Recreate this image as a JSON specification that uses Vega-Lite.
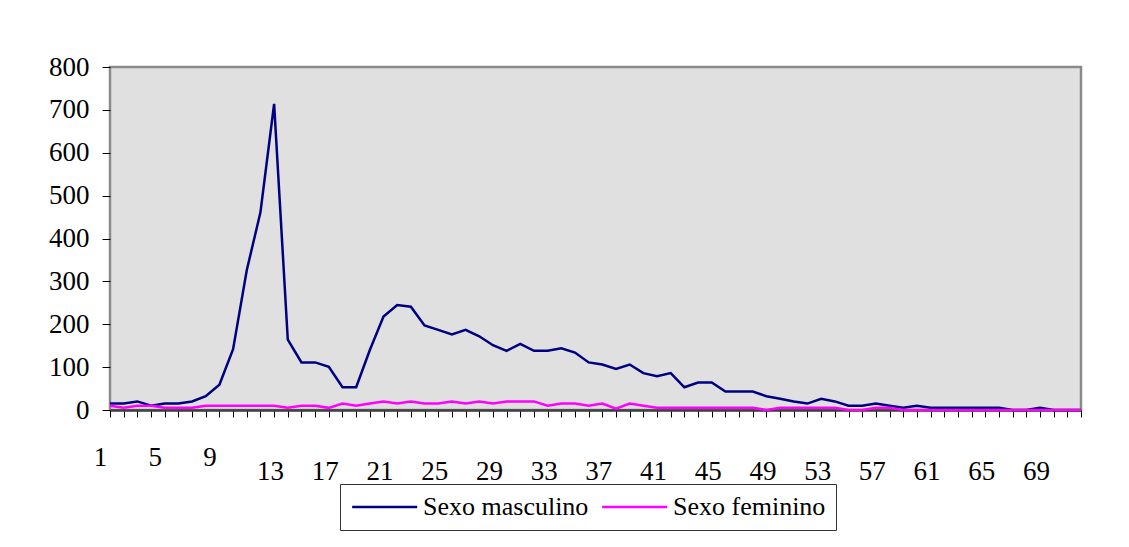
{
  "$schema": "https://vega.github.io/schema/vega-lite/v6.json",
  "autosize": "none",
  "width": 971,
  "height": 343,
  "padding": {"left": 110, "top": 67, "right": 48, "bottom": 137},
  "background": "white",
  "config": {
    "font": "Liberation Serif, Times New Roman, serif",
    "view": {"fill": "#E0E0E0", "stroke": "#8A8A8A", "strokeWidth": 2.5}
  },
  "data": {
    "values": [
      {"idade": 1, "Sexo masculino": 15, "Sexo feminino": 10},
      {"idade": 2, "Sexo masculino": 15, "Sexo feminino": 5},
      {"idade": 3, "Sexo masculino": 20, "Sexo feminino": 10},
      {"idade": 4, "Sexo masculino": 10, "Sexo feminino": 10},
      {"idade": 5, "Sexo masculino": 15, "Sexo feminino": 5},
      {"idade": 6, "Sexo masculino": 15, "Sexo feminino": 5},
      {"idade": 7, "Sexo masculino": 20, "Sexo feminino": 5},
      {"idade": 8, "Sexo masculino": 32, "Sexo feminino": 10},
      {"idade": 9, "Sexo masculino": 59, "Sexo feminino": 10},
      {"idade": 10, "Sexo masculino": 142, "Sexo feminino": 10},
      {"idade": 11, "Sexo masculino": 326, "Sexo feminino": 10},
      {"idade": 12, "Sexo masculino": 461, "Sexo feminino": 10},
      {"idade": 13, "Sexo masculino": 714, "Sexo feminino": 10},
      {"idade": 14, "Sexo masculino": 164, "Sexo feminino": 5},
      {"idade": 15, "Sexo masculino": 111, "Sexo feminino": 10},
      {"idade": 16, "Sexo masculino": 111, "Sexo feminino": 10},
      {"idade": 17, "Sexo masculino": 101, "Sexo feminino": 5},
      {"idade": 18, "Sexo masculino": 53, "Sexo feminino": 15},
      {"idade": 19, "Sexo masculino": 53, "Sexo feminino": 10},
      {"idade": 20, "Sexo masculino": 140, "Sexo feminino": 15},
      {"idade": 21, "Sexo masculino": 218, "Sexo feminino": 20},
      {"idade": 22, "Sexo masculino": 245, "Sexo feminino": 15},
      {"idade": 23, "Sexo masculino": 241, "Sexo feminino": 20},
      {"idade": 24, "Sexo masculino": 197, "Sexo feminino": 15},
      {"idade": 25, "Sexo masculino": 187, "Sexo feminino": 15},
      {"idade": 26, "Sexo masculino": 176, "Sexo feminino": 20},
      {"idade": 27, "Sexo masculino": 187, "Sexo feminino": 15},
      {"idade": 28, "Sexo masculino": 172, "Sexo feminino": 20},
      {"idade": 29, "Sexo masculino": 151, "Sexo feminino": 15},
      {"idade": 30, "Sexo masculino": 138, "Sexo feminino": 20},
      {"idade": 31, "Sexo masculino": 154, "Sexo feminino": 20},
      {"idade": 32, "Sexo masculino": 138, "Sexo feminino": 20},
      {"idade": 33, "Sexo masculino": 138, "Sexo feminino": 10},
      {"idade": 34, "Sexo masculino": 144, "Sexo feminino": 15},
      {"idade": 35, "Sexo masculino": 134, "Sexo feminino": 15},
      {"idade": 36, "Sexo masculino": 111, "Sexo feminino": 10},
      {"idade": 37, "Sexo masculino": 106, "Sexo feminino": 15},
      {"idade": 38, "Sexo masculino": 96, "Sexo feminino": 3},
      {"idade": 39, "Sexo masculino": 106, "Sexo feminino": 15},
      {"idade": 40, "Sexo masculino": 86, "Sexo feminino": 10},
      {"idade": 41, "Sexo masculino": 79, "Sexo feminino": 5},
      {"idade": 42, "Sexo masculino": 86, "Sexo feminino": 5},
      {"idade": 43, "Sexo masculino": 53, "Sexo feminino": 5},
      {"idade": 44, "Sexo masculino": 64, "Sexo feminino": 5},
      {"idade": 45, "Sexo masculino": 64, "Sexo feminino": 5},
      {"idade": 46, "Sexo masculino": 43, "Sexo feminino": 5},
      {"idade": 47, "Sexo masculino": 43, "Sexo feminino": 5},
      {"idade": 48, "Sexo masculino": 43, "Sexo feminino": 5},
      {"idade": 49, "Sexo masculino": 32, "Sexo feminino": 0},
      {"idade": 50, "Sexo masculino": 26, "Sexo feminino": 5},
      {"idade": 51, "Sexo masculino": 20, "Sexo feminino": 5},
      {"idade": 52, "Sexo masculino": 15, "Sexo feminino": 5},
      {"idade": 53, "Sexo masculino": 26, "Sexo feminino": 5},
      {"idade": 54, "Sexo masculino": 20, "Sexo feminino": 5},
      {"idade": 55, "Sexo masculino": 10, "Sexo feminino": 0},
      {"idade": 56, "Sexo masculino": 10, "Sexo feminino": 0},
      {"idade": 57, "Sexo masculino": 15, "Sexo feminino": 5},
      {"idade": 58, "Sexo masculino": 10, "Sexo feminino": 5},
      {"idade": 59, "Sexo masculino": 5, "Sexo feminino": 0},
      {"idade": 60, "Sexo masculino": 10, "Sexo feminino": 0},
      {"idade": 61, "Sexo masculino": 5, "Sexo feminino": 0},
      {"idade": 62, "Sexo masculino": 5, "Sexo feminino": 0},
      {"idade": 63, "Sexo masculino": 5, "Sexo feminino": 0},
      {"idade": 64, "Sexo masculino": 5, "Sexo feminino": 0},
      {"idade": 65, "Sexo masculino": 5, "Sexo feminino": 0},
      {"idade": 66, "Sexo masculino": 5, "Sexo feminino": 0},
      {"idade": 67, "Sexo masculino": 0, "Sexo feminino": 0},
      {"idade": 68, "Sexo masculino": 0, "Sexo feminino": 0},
      {"idade": 69, "Sexo masculino": 5, "Sexo feminino": 0},
      {"idade": 70, "Sexo masculino": 0, "Sexo feminino": 0},
      {"idade": 71, "Sexo masculino": 0, "Sexo feminino": 0},
      {"idade": 72, "Sexo masculino": 0, "Sexo feminino": 0}
    ]
  },
  "transform": [
    {"fold": ["Sexo masculino", "Sexo feminino"], "as": ["serie", "valor"]}
  ],
  "mark": {"type": "line", "strokeWidth": 2.5, "clip": false},
  "encoding": {
    "x": {
      "field": "idade",
      "type": "quantitative",
      "scale": {"domain": [1, 72], "nice": false, "zero": false},
      "axis": {
        "title": null,
        "grid": false,
        "values": [1,2,3,4,5,6,7,8,9,10,11,12,13,14,15,16,17,18,19,20,21,22,23,24,25,26,27,28,29,30,31,32,33,34,35,36,37,38,39,40,41,42,43,44,45,46,47,48,49,50,51,52,53,54,55,56,57,58,59,60,61,62,63,64,65,66,67,68,69,70,71,72],
        "format": "d",
        "labelExpr": "((datum.value - 1) % 4 == 0 && datum.value <= 69) ? datum.label : ''",
        "labelFont": "Liberation Serif, Times New Roman, serif",
        "labelFontSize": 27,
        "labelColor": "black",
        "labelFlush": false,
        "labelOverlap": false,
        "labelBaseline": "top",
        "labelPadding": {"condition": {"test": "datum.value <= 9", "value": 27}, "value": 41},
        "labelOffset": {"condition": {"test": "datum.value <= 9", "value": -10}, "value": -4},
        "domainColor": "#404040",
        "domainWidth": 2.5,
        "tickColor": "black",
        "tickSize": 7,
        "tickWidth": 1
      }
    },
    "y": {
      "field": "valor",
      "type": "quantitative",
      "scale": {"domain": [0, 800], "nice": false},
      "axis": {
        "title": null,
        "grid": false,
        "values": [0, 100, 200, 300, 400, 500, 600, 700, 800],
        "labelFont": "Liberation Serif, Times New Roman, serif",
        "labelFontSize": 27,
        "labelColor": "black",
        "labelPadding": 13,
        "labelFlush": false,
        "domain": false,
        "tickColor": "black",
        "tickSize": 8,
        "tickWidth": 1
      }
    },
    "color": {
      "field": "serie",
      "type": "nominal",
      "scale": {"domain": ["Sexo masculino", "Sexo feminino"], "range": ["#000080", "#FF00FF"]},
      "legend": {
        "title": null,
        "orient": "none",
        "legendX": 230,
        "legendY": 417,
        "direction": "horizontal",
        "symbolType": "M-1,0H5",
        "symbolSize": 470,
        "symbolStrokeWidth": 2.5,
        "symbolFillColor": "transparent",
        "labelFont": "Liberation Serif, Times New Roman, serif",
        "labelFontSize": 26,
        "labelColor": "black",
        "labelOffset": 47,
        "columnPadding": 8,
        "padding": 10,
        "strokeColor": "#333333",
        "fillColor": "white",
        "labelLimit": 400
      }
    }
  }
}
